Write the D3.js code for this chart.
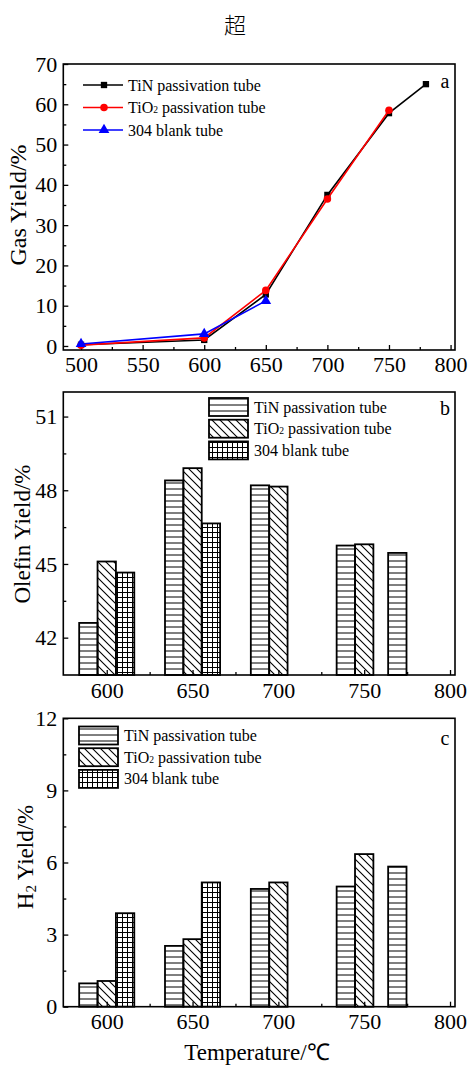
<!DOCTYPE html>
<html>
<head>
<meta charset="utf-8">
<script src="https://cdn.jsdelivr.net/npm/d3@7"></script>
<style>
  body { margin: 0; background: #fff; }
  text { font-family: "Liberation Serif", "Times New Roman", serif; fill: #000; }
</style>
</head>
<body>
<svg id="chart" width="470" height="1068"></svg>
<script>
// ---- data ----
const seriesNames = ["TiN passivation tube", "TiO2 passivation tube", "304 blank tube"];

// panel a: gas yield (line chart)
const gasTempsTiN = [500, 600, 650, 700, 750, 780];
const gasTiN = [0.3, 1.5, 12.8, 37.5, 57.8, 65.0];
const gasTempsTiO2 = [500, 600, 650, 700, 750];
const gasTiO2 = [0.2, 2.0, 13.8, 36.5, 58.5];
const gasTemps304 = [500, 600, 650];
const gas304 = [0.5, 3.0, 11.2];

// panels b and c: bars
const barTemps = [600, 650, 700, 750, 780];
const olefinTiN = [42.6, 48.4, 48.2, 45.75, 45.45];
const olefinTiO2 = [45.1, 48.9, 48.15, 45.8, null];
const olefin304 = [44.65, 46.65, null, null, null];
const h2TiN = [0.97, 2.53, 4.9, 5.0, 5.83];
const h2TiO2 = [1.07, 2.81, 5.17, 6.35, null];
const h2_304 = [3.89, 5.17, null, null, null];

const gasTicks = [0, 10, 20, 30, 40, 50, 60, 70];
const olefinTicks = [42, 45, 48, 51];
const h2Ticks = [0, 3, 6, 9, 12];
const tempTicksA = [500, 550, 600, 650, 700, 750, 800];
const tempTicksB = [600, 650, 700, 750, 800];

const svg = d3.select("#chart");
const left = 63.3, right = 455;

// title
svg.append("text").attr("x", 235).attr("y", 33)
  .attr("text-anchor", "middle")
  .style("font-family", "'Noto Sans CJK SC'")
  .style("font-weight", 300)
  .style("font-size", "22px").text("超");

// patterns
const defs = svg.append("defs");
const pH = defs.append("pattern").attr("id", "pH").attr("patternUnits", "userSpaceOnUse")
  .attr("width", 6).attr("height", 6);
pH.append("line").attr("x1", 0).attr("x2", 6).attr("y1", 3).attr("y2", 3)
  .attr("stroke", "#000").attr("stroke-width", 1);
const pD = defs.append("pattern").attr("id", "pD").attr("patternUnits", "userSpaceOnUse")
  .attr("width", 8).attr("height", 8);
pD.append("path").attr("d", "M-2,-2 L10,10 M-2,6 L2,10 M6,-2 L10,2")
  .attr("stroke", "#000").attr("stroke-width", 1.1).attr("fill", "none");
const pG = defs.append("pattern").attr("id", "pG").attr("patternUnits", "userSpaceOnUse")
  .attr("width", 5).attr("height", 5);
pG.append("path").attr("d", "M0,2.5 H5 M2.5,0 V5")
  .attr("stroke", "#000").attr("stroke-width", 1).attr("fill", "none");
const fills = ["url(#pH)", "url(#pD)", "url(#pG)"];

function seriesLabel(sel, i, size) {
  if (i === 1) {
    sel.append("tspan").text("TiO");
    sel.append("tspan").text("2").style("font-size", (size * 0.6) + "px");
    sel.append("tspan").text(" passivation tube");
  } else {
    sel.text(seriesNames[i]);
  }
}

function drawAxes(g, x, y, top, bottom, xTicks, xMinor, yTicks, yMinor, xLabelY) {
  g.append("g").attr("transform", `translate(0,${bottom})`)
    .call(d3.axisBottom(x).tickValues(xMinor).tickSize(-3).tickFormat(""))
    .call(a => a.select(".domain").remove());
  g.append("g").attr("transform", `translate(0,${bottom})`)
    .call(d3.axisBottom(x).tickValues(xTicks).tickSize(-5).tickPadding(xLabelY))
    .call(a => a.select(".domain").remove())
    .selectAll("text").style("font-size", "22px")
    .style("font-family", "'Liberation Serif'");
  g.append("g").attr("transform", `translate(${left},0)`)
    .call(d3.axisLeft(y).tickValues(yMinor).tickSize(-3).tickFormat(""))
    .call(a => a.select(".domain").remove());
  g.append("g").attr("transform", `translate(${left},0)`)
    .call(d3.axisLeft(y).tickValues(yTicks).tickSize(-5).tickPadding(6))
    .call(a => a.select(".domain").remove())
    .selectAll("text").style("font-size", "22px")
    .style("font-family", "'Liberation Serif'");
  g.selectAll(".tick line").attr("stroke-width", 1.3);
  g.append("rect").attr("x", left).attr("y", top)
    .attr("width", right - left).attr("height", bottom - top)
    .attr("fill", "none").attr("stroke", "#000").attr("stroke-width", 1.6);
}

// ---------- panel a ----------
{
  const top = 64, bottom = 350;
  const g = svg.append("g");
  const x = d3.scaleLinear().domain([485.6, 803.6]).range([left, right]);
  const y = d3.scaleLinear().domain([-1, 70]).range([bottom, top]);
  drawAxes(g, x, y, top, bottom, tempTicksA, d3.range(525, 800, 50), gasTicks,
    d3.range(5, 70, 10), 6);

  const colors = ["#000", "#f00", "#00f"];
  const sets = [[gasTempsTiN, gasTiN], [gasTempsTiO2, gasTiO2], [gasTemps304, gas304]];
  const line = d3.line().x(d => x(d[0])).y(d => y(d[1]));
  const symbols = [d3.symbolSquare, d3.symbolCircle, d3.symbolTriangle];
  const sizes = [40, 45, 50];
  sets.forEach((s, i) => {
    const pts = s[0].map((t, j) => [t, s[1][j]]);
    g.append("path").datum(pts).attr("d", line)
      .attr("fill", "none").attr("stroke", colors[i]).attr("stroke-width", 1.6);
    g.selectAll(null).data(pts).enter().append("path")
      .attr("transform", d => `translate(${x(d[0])},${y(d[1])})`)
      .attr("d", d3.symbol().type(symbols[i]).size(sizes[i]))
      .attr("fill", colors[i]);
  });
  // legend
  const ly = [85, 107.5, 130];
  seriesNames.forEach((n, i) => {
    g.append("line").attr("x1", 83).attr("x2", 123).attr("y1", ly[i]).attr("y2", ly[i])
      .attr("stroke", colors[i]).attr("stroke-width", 1.6);
    g.append("path").attr("transform", `translate(104,${ly[i]})`)
      .attr("d", d3.symbol().type(symbols[i]).size(sizes[i])).attr("fill", colors[i]);
    g.append("text").attr("x", 128).attr("y", ly[i] + 5.5).style("font-size", "16px")
      .call(seriesLabel, i, 16);
  });
  g.append("text").attr("x", 445).attr("y", 88).attr("text-anchor", "middle")
    .style("font-size", "20px").text("a");
  g.append("text").attr("transform", "translate(26,205) rotate(-90)")
    .attr("text-anchor", "middle").style("font-size", "24px").text("Gas Yield/%");
}

function barPanel(top, bottom, yDomain, yTicks, yMinor, vals, legendX, legendY, letter, letterY, titleY, titleNode) {
  const g = svg.append("g");
  const x = d3.scaleLinear().domain([574.7, 802.9]).range([left, right]);
  const y = d3.scaleLinear().domain(yDomain).range([bottom, top]);
  const bw = 10.7;
  vals.forEach((arr, si) => {
    const data = barTemps.map((t, j) => ({ t, v: arr[j] })).filter(d => d.v != null);
    g.selectAll(null).data(data).enter().append("rect")
      .attr("x", d => x(d.t + (si - 1) * bw - bw / 2))
      .attr("width", d => x(d.t + bw / 2) - x(d.t - bw / 2))
      .attr("y", d => y(d.v))
      .attr("height", d => bottom - y(d.v))
      .attr("fill", fills[si]).attr("stroke", "#000").attr("stroke-width", 1.8);
  });
  drawAxes(g, x, y, top, bottom, tempTicksB, [625, 675, 725, 775], yTicks, yMinor, 7);
  // legend
  seriesNames.forEach((n, i) => {
    const yy = legendY + i * 21.7;
    g.append("rect").attr("x", legendX).attr("y", yy).attr("width", 39).attr("height", 18)
      .attr("fill", fills[i]).attr("stroke", "#000").attr("stroke-width", 1.8);
    g.append("text").attr("x", legendX + 45).attr("y", yy + 14.5).style("font-size", "16px")
      .call(seriesLabel, i, 16);
  });
  g.append("text").attr("x", 445).attr("y", letterY).attr("text-anchor", "middle")
    .style("font-size", "20px").text(letter);
  const t = g.append("text").attr("transform", `translate(${titleY[0]},${titleY[1]}) rotate(-90)`)
    .attr("text-anchor", "middle").style("font-size", "23px");
  titleNode(t);
  return g;
}

// ---------- panel b ----------
barPanel(392, 675, [40.48, 52.0], olefinTicks, [43.5, 46.5, 49.5], [olefinTiN, olefinTiO2, olefin304],
  209, 398, "b", 415, [30, 534], t => t.text("Olefin Yield/%"));

// ---------- panel c ----------
const gc = barPanel(718.3, 1006.7, [0, 12], h2Ticks, [1.5, 4.5, 7.5, 10.5], [h2TiN, h2TiO2, h2_304],
  79, 726.5, "c", 745, [33, 857], t => {
    t.append("tspan").text("H");
    t.append("tspan").text("2").style("font-size", "15px").attr("dy", 3);
    t.append("tspan").text(" Yield/%").attr("dy", -3);
  });
gc.append("text").attr("x", 257).attr("y", 1060).attr("text-anchor", "middle")
  .style("font-size", "23px").text("Temperature/℃");
</script>
</body>
</html>
